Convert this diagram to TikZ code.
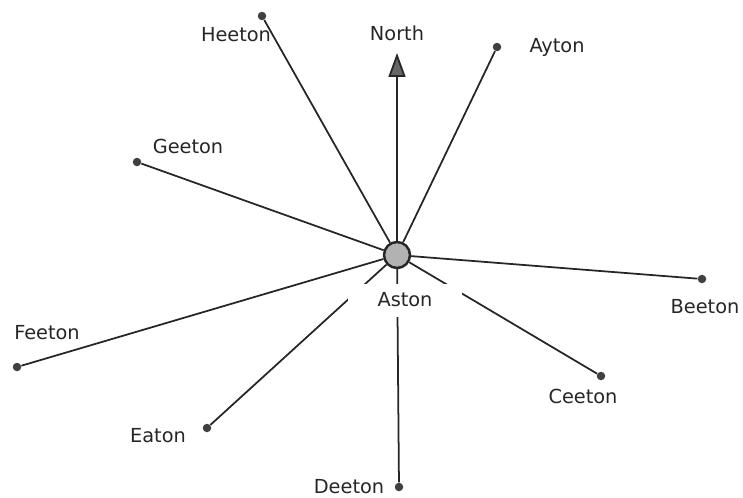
\documentclass[tikz,border=0pt]{standalone}
\usepackage{fontspec}
\setmainfont{DejaVu Sans}
\usetikzlibrary{arrows.meta}

\begin{document}
\begin{tikzpicture}[x=0.02cm, y=-0.02cm, font=\fontsize{11}{13}\selectfont,
    town/.style={circle, fill=black!75, inner sep=0pt, minimum size=0.17cm},
    hub/.style={circle, draw=black!85, line width=1.4pt, fill=black!30, inner sep=0pt, minimum size=0.52cm},
    road/.style={draw=black!85, line width=1pt},
    townlabel/.style={text=black!85, inner sep=1pt}
]
\useasboundingbox (0,0) rectangle (743,497);

% Aston in the middle
\node[hub] (aston) at (397,255) {};

% Towns round it
\node[town] (ayton)  at (497,47)  {};
\node[town] (beeton) at (702,279) {};
\node[town] (ceeton) at (601,376) {};
\node[town] (deeton) at (399,487) {};
\node[town] (eaton)  at (207,428) {};
\node[town] (feeton) at (17,367)  {};
\node[town] (geeton) at (137,162) {};
\node[town] (heeton) at (262,16)  {};
\coordinate (north) at (397,53);

% Roads
\draw[road] (aston) -- (ayton);
\draw[road] (aston) -- (beeton);
\draw[road] (aston) -- (ceeton);
\draw[road] (aston) -- (deeton);
\draw[road] (aston) -- (eaton);
\draw[road] (aston) -- (feeton);
\draw[road] (aston) -- (geeton);
\draw[road] (aston) -- (heeton);
\draw[road, -{Triangle[length=0.48cm, width=0.34cm, fill=black!60]}] (aston) -- (north);

% Labels
\node[townlabel, fill=white, minimum width=2.28cm, minimum height=0.66cm] (astonlabel) at (405,300) {Aston};
\node[townlabel] (northlabel) at (397,33) {North};
\node[townlabel] (aytonlabel) at (557,47) {Ayton};
\node[townlabel] (beetonlabel) at (705,307) {Beeton};
\node[townlabel] (ceetonlabel) at (583,396) {Ceeton};
\node[townlabel] (deetonlabel) at (349,487) {Deeton};
\node[townlabel] (eatonlabel) at (158,436) {Eaton};
\node[townlabel] (feetonlabel) at (47,333) {Feeton};
\node[townlabel] (geetonlabel) at (188,146) {Geeton};
\node[townlabel] (heetonlabel) at (236,35) {Heeton};
\end{tikzpicture}
\end{document}
